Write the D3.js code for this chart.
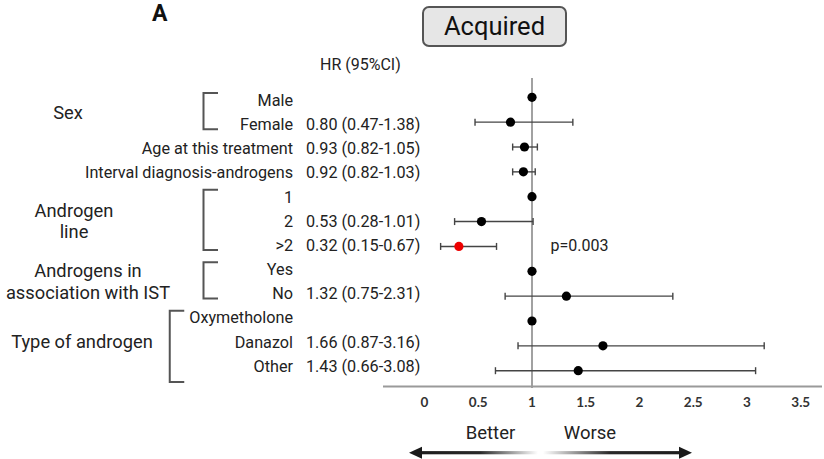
<!DOCTYPE html>
<html>
<head>
<meta charset="utf-8">
<script src="https://cdn.jsdelivr.net/npm/d3@7"></script>
<style>
  html, body { margin: 0; padding: 0; background: #fff; }
  svg { display: block; font-family: Roboto, "Noto Sans", sans-serif; }
</style>
</head>
<body>
<svg id="chart" width="824" height="459"></svg>
<script>
// Hazard ratios (95% CI) for acquired cases; reference levels have no CI.
const rowLabels = ["Male", "Female", "Age at this treatment", "Interval diagnosis-androgens",
                   "1", "2", ">2", "Yes", "No", "Oxymetholone", "Danazol", "Other"];
const hr    = [1, 0.80, 0.93, 0.92, 1, 0.53, 0.32, 1, 1.32, 1, 1.66, 1.43];
const lower = [null, 0.47, 0.82, 0.82, null, 0.28, 0.15, null, 0.75, null, 0.87, 0.66];
const upper = [null, 1.38, 1.05, 1.03, null, 1.01, 0.67, null, 2.31, null, 3.16, 3.08];
const significant = [false, false, false, false, false, false, true, false, false, false, false, false];
const pLabel = "p=0.003";
const pRow = 6;

// Grouping of variable levels
const groupNames  = [["Sex"], ["Androgen", "line"], ["Androgens in", "association with IST"], ["Type of androgen"]];
const groupStart  = [0, 4, 7, 9];
const groupEnd    = [1, 6, 8, 11];
const groupLabelCenter = [68, 74, 88, 82];

const xTicks = [0, 0.5, 1, 1.5, 2, 2.5, 3, 3.5];

const svg = d3.select("#chart");
const n = rowLabels.length;
const rows = d3.range(n);

const x = d3.scaleLinear().domain([0, 3.5]).range([424.5, 800.75]);
const yPoint = d3.scaleLinear().domain([0, n - 1]).range([97.3, 370.7]);
const yText  = d3.scaleLinear().domain([0, n - 1]).range([100, 366]);
const fmt = d3.format(".2f");

// Panel letter
svg.append("text").attr("x", 152).attr("y", 21)
  .attr("font-size", 23).attr("font-weight", 700).attr("fill", "#111").text("A");

// Title box
svg.append("rect").attr("x", 423).attr("y", 7).attr("width", 143).attr("height", 39)
  .attr("rx", 6).attr("fill", "#e6e6e6").attr("stroke", "#555").attr("stroke-width", 2);
svg.append("text").attr("x", 494.5).attr("y", 35).attr("text-anchor", "middle")
  .attr("font-size", 25.5).attr("fill", "#111").text("Acquired");

// Column header
svg.append("text").attr("x", 320).attr("y", 70)
  .attr("font-size", 16).attr("fill", "#222").text("HR (95%CI)");

// Row labels (right aligned)
const labelRight = 293;
const labels = svg.append("g").selectAll("text").data(rows).join("text")
  .attr("x", labelRight).attr("y", i => yText(i)).attr("dy", "0.36em")
  .attr("text-anchor", "end").attr("font-size", 16.2).attr("fill", "#222")
  .text(i => rowLabels[i]);

// HR (CI) values
svg.append("g").selectAll("text").data(rows.filter(i => lower[i] !== null)).join("text")
  .attr("x", 306).attr("y", i => yText(i)).attr("dy", "0.36em")
  .attr("font-size", 16.2).attr("fill", "#222")
  .text(i => `${fmt(hr[i])} (${fmt(lower[i])}-${fmt(upper[i])})`);

// Group brackets and group names
const labelWidths = labels.nodes().map(nd => nd.getComputedTextLength());
groupNames.forEach((names, g) => {
  const maxW = d3.max(d3.range(groupStart[g], groupEnd[g] + 1), i => labelWidths[i]);
  const right = Math.min(218, labelRight - maxW - 5);
  const left = right - 14.5;
  const top = yText(groupStart[g]) - 7;
  const bottom = yText(groupEnd[g]) + 5;
  const gb = (g === 3) ? bottom + 11 : bottom;
  svg.append("path")
    .attr("d", `M${right},${top}H${left}V${gb}H${right}`)
    .attr("fill", "none").attr("stroke", "#555").attr("stroke-width", 2);
  const mid = (yText(groupStart[g]) + yText(groupEnd[g])) / 2;
  const lh = 21.5;
  names.forEach((t, k) => {
    svg.append("text")
      .attr("x", groupLabelCenter[g])
      .attr("y", mid + (k - (names.length - 1) / 2) * lh).attr("dy", "0.36em")
      .attr("text-anchor", "middle").attr("font-size", 18.3).attr("fill", "#222").text(t);
  });
});

// Reference line at HR = 1
svg.append("line").attr("x1", x(1)).attr("x2", x(1)).attr("y1", 78).attr("y2", 388)
  .attr("stroke", "#8a8a8a").attr("stroke-width", 1.6);

// Axis baseline and tick labels
svg.append("line").attr("x1", 383).attr("x2", 822).attr("y1", 386.5).attr("y2", 386.5)
  .attr("stroke", "#9a9a9a").attr("stroke-width", 2);
svg.append("g").selectAll("text").data(xTicks).join("text")
  .attr("x", d => x(d)).attr("y", 402).attr("dy", "0.36em").attr("text-anchor", "middle")
  .attr("font-family", "Lato, 'Liberation Sans', sans-serif").attr("font-weight", 700)
  .attr("font-size", 13.5).attr("fill", "#333").text(d => d);

// Confidence intervals
const ci = svg.append("g").attr("stroke", "#444").attr("stroke-width", 1.4);
rows.filter(i => lower[i] !== null).forEach(i => {
  const yy = yPoint(i);
  ci.append("line").attr("x1", x(lower[i])).attr("x2", x(upper[i])).attr("y1", yy).attr("y2", yy);
  ci.append("line").attr("x1", x(lower[i])).attr("x2", x(lower[i])).attr("y1", yy - 3.5).attr("y2", yy + 3.5);
  ci.append("line").attr("x1", x(upper[i])).attr("x2", x(upper[i])).attr("y1", yy - 3.5).attr("y2", yy + 3.5);
});

// Point estimates
svg.append("g").selectAll("circle").data(rows).join("circle")
  .attr("cx", i => x(hr[i])).attr("cy", i => yPoint(i)).attr("r", 4.6)
  .attr("fill", i => significant[i] ? "#ee0000" : "#000");

// p-value
svg.append("text").attr("x", 550.5).attr("y", yPoint(pRow) - 1).attr("dy", "0.36em")
  .attr("font-size", 16).attr("fill", "#222").text(pLabel);

// Direction arrows
const defs = svg.append("defs");
const gl = defs.append("linearGradient").attr("id", "gLeft")
  .attr("gradientUnits", "userSpaceOnUse").attr("x1", 410).attr("x2", 538).attr("y1", 0).attr("y2", 0);
gl.append("stop").attr("offset", "0%").attr("stop-color", "#1a1a1a");
gl.append("stop").attr("offset", "55%").attr("stop-color", "#2a2a2a");
gl.append("stop").attr("offset", "100%").attr("stop-color", "#ffffff");
const gr = defs.append("linearGradient").attr("id", "gRight")
  .attr("gradientUnits", "userSpaceOnUse").attr("x1", 543).attr("x2", 691).attr("y1", 0).attr("y2", 0);
gr.append("stop").attr("offset", "0%").attr("stop-color", "#ffffff");
gr.append("stop").attr("offset", "45%").attr("stop-color", "#2a2a2a");
gr.append("stop").attr("offset", "100%").attr("stop-color", "#1a1a1a");

const ay = 452.7;
svg.append("rect").attr("x", 418).attr("y", ay - 1.6).attr("width", 120).attr("height", 3.2).attr("fill", "url(#gLeft)");
svg.append("rect").attr("x", 543).attr("y", ay - 1.6).attr("width", 140).attr("height", 3.2).attr("fill", "url(#gRight)");
svg.append("path").attr("d", `M409,${ay}L422,${ay - 6}L422,${ay + 6}Z`).attr("fill", "#1a1a1a");
svg.append("path").attr("d", `M692,${ay}L679,${ay - 6}L679,${ay + 6}Z`).attr("fill", "#1a1a1a");

svg.append("text").attr("x", 490.5).attr("y", 432).attr("dy", "0.36em").attr("text-anchor", "middle")
  .attr("font-size", 18.5).attr("fill", "#222").text("Better");
svg.append("text").attr("x", 590).attr("y", 432).attr("dy", "0.36em").attr("text-anchor", "middle")
  .attr("font-size", 18.5).attr("fill", "#222").text("Worse");
</script>
</body>
</html>
